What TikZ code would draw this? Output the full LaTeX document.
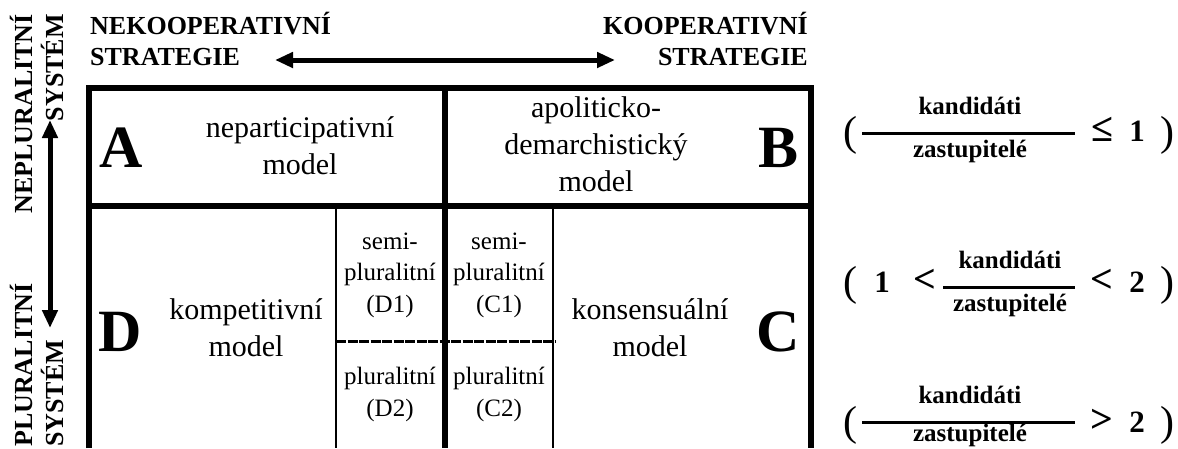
\documentclass[tikz,border=0pt]{standalone}
\usepackage{fontspec}
\setmainfont{Liberation Serif}
\usepackage{tikz}
\usetikzlibrary{arrows.meta,positioning}

\newcommand\cellfont{\fontsize{30}{37}\selectfont}
\newcommand\subcellfont{\fontsize{25}{31.5}\selectfont}
\newcommand\letterfont{\fontsize{60}{60}\selectfont\bfseries}
\newcommand\headfont{\fontsize{26}{31}\selectfont\bfseries}
\newcommand\fracfont{\fontsize{25}{25}\selectfont\bfseries}
\newcommand\numfont{\fontsize{31}{31}\selectfont\bfseries}
\newcommand\relfont{\fontsize{40}{40}\selectfont\bfseries}
\newcommand\parenfont{\fontsize{42}{42}\selectfont}

\begin{document}
\begin{tikzpicture}[x=1pt,y=-1pt,
  thick line/.style={line width=6pt},
  thin line/.style={line width=2.5pt},
  dash line/.style={line width=3pt,dash pattern=on 10pt off 1.5pt},
  big arrow/.style={line width=5pt,{Triangle[length=18pt,width=15pt]}-{Triangle[length=18pt,width=15pt]}},
  frac bar/.style={line width=3pt}]
\tikzstyle{every node}+=[inner sep=0pt]
\useasboundingbox (0,0) rectangle (1178,448);
\draw[dash line] (336,341) -- (556,341);
\draw[thin line] (336,206) -- (336,448);
\draw[thin line] (553,206) -- (553,448);
\draw[thick line] (88.5,448) -- (88.5,87.5) -- (810.5,87.5) -- (810.5,448);
\draw[thick line] (88.5,206) -- (810.5,206);
\draw[thick line] (445,87.5) -- (445,448);
\node[font=\letterfont] (A) at (121,148) {A};
\node[font=\letterfont] (B) at (779,148) {B};
\node[font=\letterfont] (C) at (778,332) {C};
\node[font=\letterfont] (D) at (120,332) {D};
\node[font=\cellfont,align=center,anchor=south] (nepart) at (300,175) {neparticipativní\\model};
\node[font=\cellfont,align=center,anchor=south] (apol) at (596,192) {apoliticko-\\demarchistický\\model};
\node[font=\cellfont,align=center,anchor=south] (kompet) at (246,357) {kompetitivní\\model};
\node[font=\cellfont,align=center,anchor=south] (konsens) at (650,357) {konsensuální\\model};
\node[font=\subcellfont,align=center,anchor=south] (dsemi) at (390,318) {semi-\\pluralitní\\(D1)};
\node[font=\subcellfont,align=center,anchor=south] (dplur) at (390,422) {pluralitní\\(D2)};
\node[font=\subcellfont,align=center,anchor=south] (csemi) at (499,318) {semi-\\pluralitní\\(C1)};
\node[font=\subcellfont,align=center,anchor=south] (cplur) at (499,422) {pluralitní\\(C2)};
\node[font=\headfont,align=left,anchor=south west] (nekoop) at (90,66) {NEKOOPERATIVNÍ\\STRATEGIE};
\node[font=\headfont,align=right,anchor=south east] (koop) at (808,66) {KOOPERATIVNÍ\\STRATEGIE};
\coordinate (stratL) at (275,60);
\coordinate (stratR) at (615,60);
\draw[big arrow] (stratL) -- (stratR);
\coordinate (sysT) at (50,120);
\coordinate (sysB) at (50,328);
\draw[big arrow] (sysT) -- (sysB);
\node[font=\headfont,rotate=90,anchor=base east] (neplur) at (32,14) {NEPLURALITNÍ};
\node[font=\headfont,rotate=90,anchor=base east] (systemT) at (63,14) {SYSTÉM};
\node[font=\headfont,rotate=90,anchor=base west] (plur) at (32,447) {PLURALITNÍ};
\node[font=\headfont,rotate=90,anchor=base west] (systemB) at (63,447) {SYSTÉM};
\node[font=\parenfont] (lp1) at (850,135) {(};
\coordinate (bar1l) at (862,133);
\coordinate (bar1r) at (1075,133);
\draw[frac bar] (bar1l) -- (bar1r);
\node[font=\fracfont,anchor=base] (kand1) at (970,114) {kandidáti};
\node[font=\fracfont,anchor=base] (zast1) at (970,157) {zastupitelé};
\node[font=\relfont,anchor=base] (rel1) at (1102,141) {≤};
\node[font=\numfont,anchor=base] (num1) at (1137,141) {1};
\node[font=\parenfont] (rp1) at (1167,135) {)};
\node[font=\parenfont] (lp2) at (850,285) {(};
\node[font=\numfont,anchor=base] (num2a) at (882,292) {1};
\node[font=\relfont,anchor=base] (rel2a) at (925,292) {<};
\coordinate (bar2l) at (943,287);
\coordinate (bar2r) at (1075,287);
\draw[frac bar] (bar2l) -- (bar2r);
\node[font=\fracfont,anchor=base] (kand2) at (1010,268) {kandidáti};
\node[font=\fracfont,anchor=base] (zast2) at (1010,311) {zastupitelé};
\node[font=\relfont,anchor=base] (rel2b) at (1102,292) {<};
\node[font=\numfont,anchor=base] (num2b) at (1137,292) {2};
\node[font=\parenfont] (rp2) at (1167,285) {)};
\node[font=\parenfont] (lp3) at (850,425) {(};
\coordinate (bar3l) at (862,422);
\coordinate (bar3r) at (1075,422);
\draw[frac bar] (bar3l) -- (bar3r);
\node[font=\fracfont,anchor=base] (kand3) at (970,403) {kandidáti};
\node[font=\fracfont,anchor=base] (zast3) at (970,441) {zastupitelé};
\node[font=\relfont,anchor=base] (rel3) at (1102,432) {>};
\node[font=\numfont,anchor=base] (num3) at (1137,432) {2};
\node[font=\parenfont] (rp3) at (1167,425) {)};
\end{tikzpicture}
\end{document}
